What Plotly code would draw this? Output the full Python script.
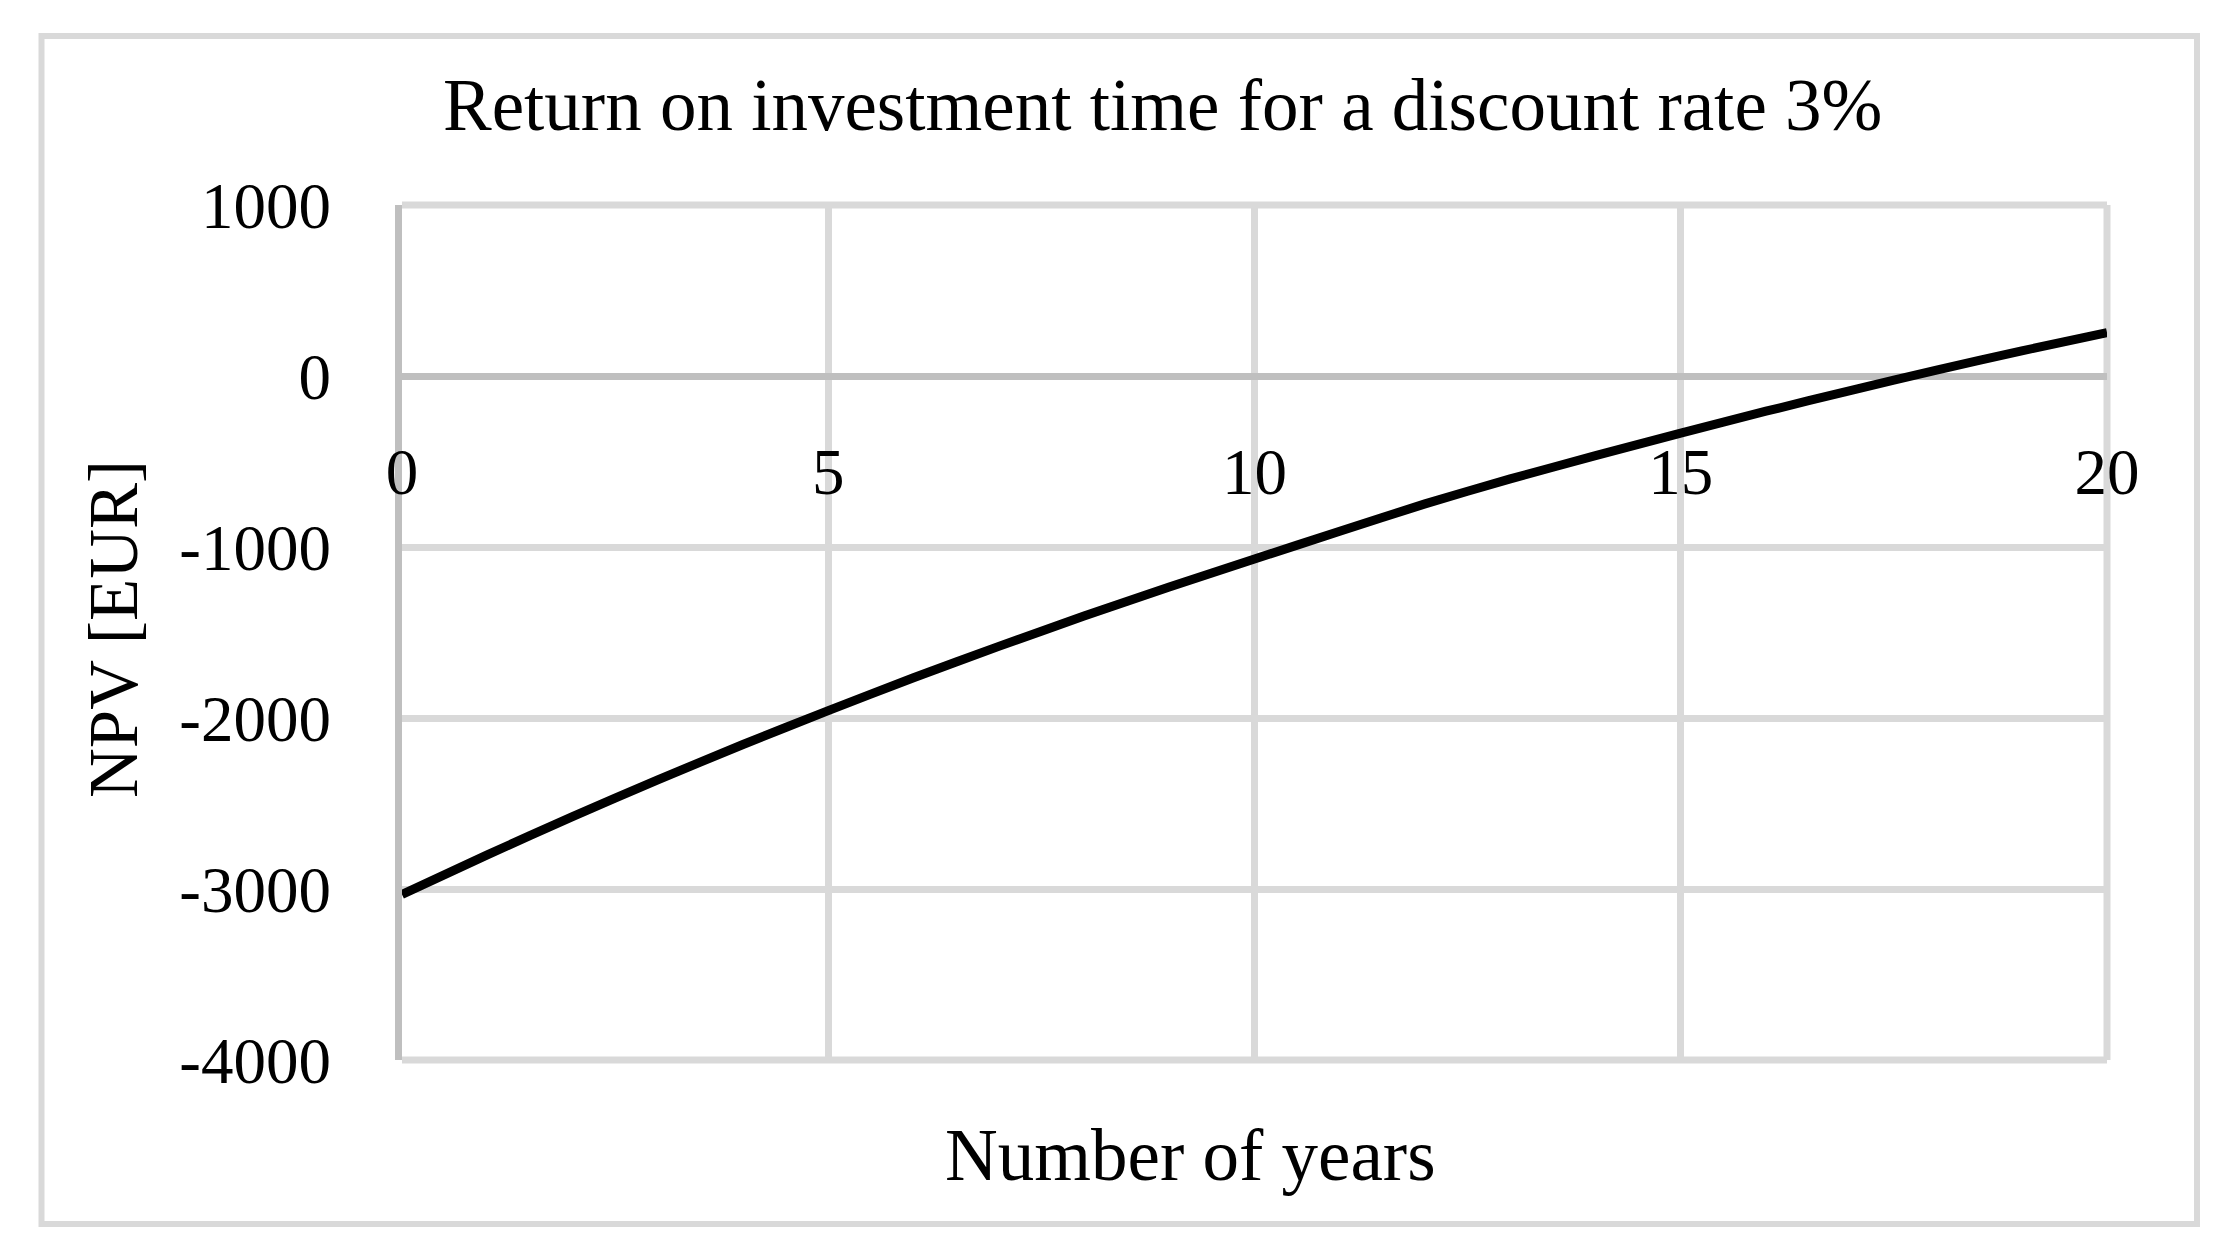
import plotly.graph_objects as go

years = list(range(0, 21))
npv = [-3032, -2800, -2577, -2362, -2155, -1957, -1765, -1581, -1404, -1234,
       -1070, -908, -748, -602, -466, -334, -206, -84, 35, 147, 254]

x_ticks = [0, 5, 10, 15, 20]
y_ticks = [1000, 0, -1000, -2000, -3000, -4000]

title_text = "Return on investment time for a discount rate 3%"
x_title = "Number of years"
y_title = "NPV [EUR]"

FONT = "Liberation Serif"
W, H = 2230, 1248
L, R, T, B = 402, 123, 205, 188
pw, ph = W - L - R, H - T - B

def px(x):
    return (x - L) / pw

def py(y):
    return (H - B - y) / ph

grid = "#D9D9D9"
axis_col = "#BFBFBF"
GW = 7

fig = go.Figure()
fig.add_trace(go.Scatter(
    x=years, y=npv, mode="lines",
    line=dict(color="black", width=9, shape="spline", smoothing=0.6),
    showlegend=False, hoverinfo="x+y",
))

fig.update_layout(
    width=W, height=H,
    margin=dict(l=L, r=R, t=T, b=B, autoexpand=False),
    paper_bgcolor="white", plot_bgcolor="white",
    font=dict(family=FONT, size=65, color="black"),
    xaxis=dict(
        range=[0, 20], tickvals=x_ticks, ticktext=[str(v) for v in x_ticks],
        showgrid=True, gridcolor=grid, gridwidth=GW,
        zeroline=False, showline=False,
        anchor="free", position=0.8,
        ticks="outside", ticklen=1, tickcolor="rgba(0,0,0,0)",
        ticklabelstandoff=38,
        tickfont=dict(family=FONT, size=65, color="black"),
        fixedrange=True,
    ),
    yaxis=dict(
        range=[-4000, 1000], tickvals=y_ticks, ticktext=[str(v) for v in y_ticks],
        showgrid=True, gridcolor=grid, gridwidth=GW,
        zeroline=True, zerolinecolor=axis_col, zerolinewidth=GW,
        showline=True, linecolor=axis_col, linewidth=GW,
        ticks="outside", ticklen=1, tickcolor="rgba(0,0,0,0)",
        ticklabelstandoff=50,
        tickfont=dict(family=FONT, size=65, color="black"),
        fixedrange=True,
    ),
    shapes=[
        # outer chart-area border
        dict(type="rect", xref="paper", yref="paper",
             x0=px(41.5), x1=px(2197), y0=py(1224), y1=py(36),
             line=dict(color=grid, width=6), fillcolor="rgba(0,0,0,0)", layer="below"),
        # plot-area edge gridlines (top, bottom, right)
        dict(type="line", xref="paper", yref="paper", x0=0, x1=1, y0=1, y1=1,
             line=dict(color=grid, width=GW), layer="below"),
        dict(type="line", xref="paper", yref="paper", x0=0, x1=1, y0=0, y1=0,
             line=dict(color=grid, width=GW), layer="below"),
        dict(type="line", xref="paper", yref="paper", x0=1, x1=1, y0=0, y1=1,
             line=dict(color=grid, width=GW), layer="below"),
    ],
    annotations=[
        dict(text=title_text, xref="paper", yref="paper", x=px(1162), y=py(105),
             xanchor="center", yanchor="middle", showarrow=False,
             font=dict(family=FONT, size=73, color="black")),
        dict(text=x_title, xref="paper", yref="paper", x=px(1190), y=py(1155),
             xanchor="center", yanchor="middle", showarrow=False,
             font=dict(family=FONT, size=73, color="black")),
        dict(text=y_title, xref="paper", yref="paper", x=px(114), y=py(629),
             xanchor="center", yanchor="middle", showarrow=False, textangle=-90,
             font=dict(family=FONT, size=69, color="black")),
    ],
)

fig.write_html(
    "out.html",
    config={"displayModeBar": False},
    post_script="document.body.style.margin='0';document.body.style.overflow='hidden';",
)
